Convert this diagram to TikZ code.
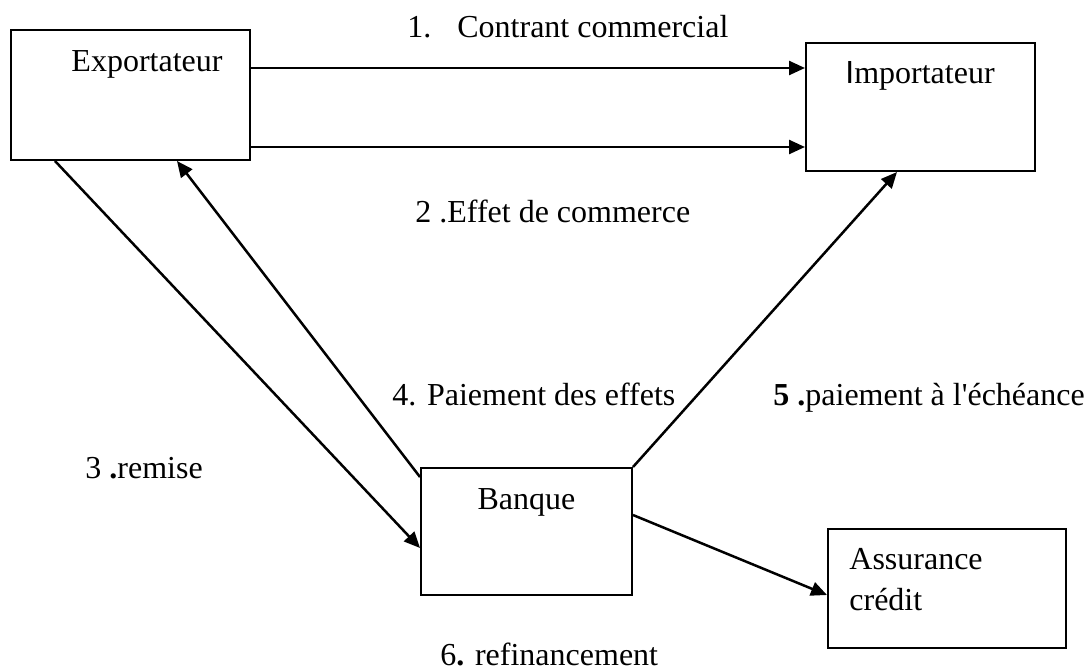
\documentclass[tikz,border=0pt]{standalone}
\usepackage{fontspec}
\setmainfont{Liberation Serif}
\setsansfont{Liberation Sans}
\usetikzlibrary{arrows.meta,calc}
\begin{document}
\begin{tikzpicture}[x=0.5pt,y=-0.5pt,
  box/.style={draw,line width=1pt,inner sep=0pt},
  txt/.style={inner sep=0pt,font=\fontsize{16}{19}\selectfont},
  arr/.style={line width=1.25pt,-{Triangle[length=8pt,width=7pt]}}]
\useasboundingbox (0,0) rectangle (1089,670);
% boxes
\node[box,minimum width=119.5pt,minimum height=65pt] (exp) at (130.5,95) {};
\node[box,minimum width=114.5pt,minimum height=64pt] (imp) at (920.5,107) {};
\node[box,minimum width=105.5pt,minimum height=63.5pt] (ban) at (526.5,531.5) {};
\node[box,minimum width=119pt,minimum height=59.5pt] (ass) at (947,588.5) {};
% box texts
\node[txt,anchor=base] (expt) at (147,71) {Exportateur};
\node[txt,anchor=base] (impt) at (920,83) {{\sffamily I}mportateur};
\node[txt,anchor=base] (bant) at (526.5,509) {Banque};
\node[txt,anchor=base west] (asst1) at (849,569) {Assurance};
\node[txt,anchor=base west] (asst2) at (849,610) {crédit};
% labels
\node[txt,anchor=base west] (l1) at (407,37) {1.\hspace{13pt}Contrant commercial};
\node[txt,anchor=base west] (l2) at (415,222) {2 .Effet de commerce};
\node[txt,anchor=base west] (l3) at (85,478) {3 {\bfseries .}remise};
\node[txt,anchor=base west] (l4) at (392,405) {4. Paiement des effets};
\node[txt,anchor=base west] (l5) at (773,405) {{\bfseries 5 .}paiement à l\textquotesingle échéance};
\node[txt,anchor=base west] (l6) at (440,665) {6{\bfseries .} refinancement};
% connectors
\draw[arr] (exp.east |- 0,68) -- (imp.west |- 0,68);
\draw[arr] (exp.east |- 0,147) -- (imp.west |- 0,147);
\draw[arr] (exp.south -| 55,0) -- (ban.west |- 0,548);
\draw[arr] (ban.west |- 0,477) -- (exp.south -| 177,0);
\draw[arr] (ban.north east) -- (imp.south -| 897,0);
\draw[arr] (ban.east |- 0,515) -- (ass.west |- 0,595);
\end{tikzpicture}
\end{document}
